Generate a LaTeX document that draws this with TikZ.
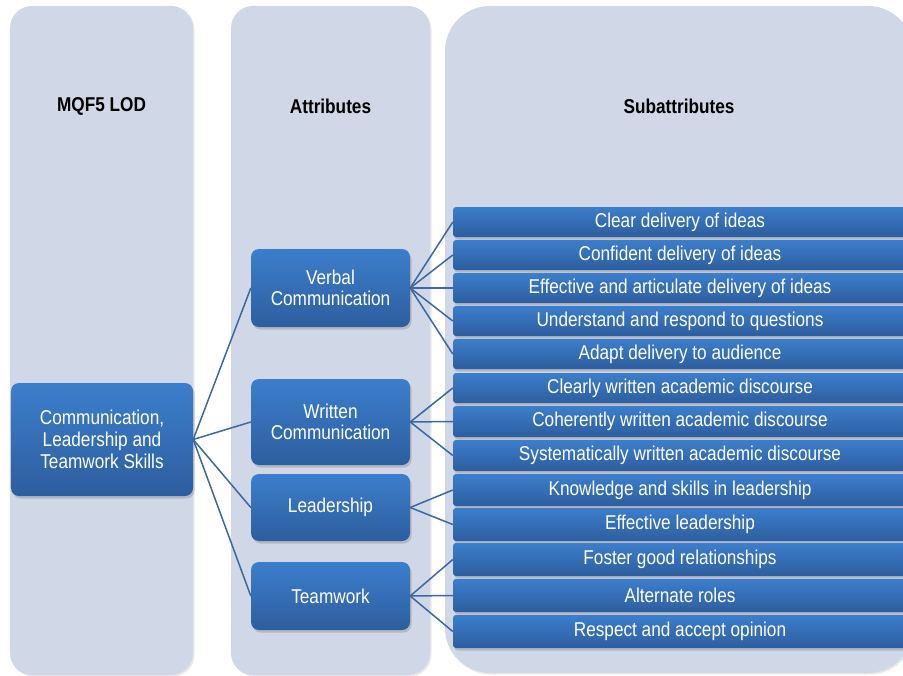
\documentclass[tikz,border=0pt]{standalone}
\usepackage{fontspec}
\setmainfont{Liberation Sans}[FakeStretch=0.86]
\usetikzlibrary{shadows}
\definecolor{colfill}{HTML}{D0D7E6}
\definecolor{boxtop}{HTML}{3C7ECC}
\definecolor{boxbot}{HTML}{2D5E9E}
\definecolor{linkc}{HTML}{3C67A2}
\tikzset{
  column/.style={fill=colfill, draw=none, inner sep=0pt,
    drop shadow={shadow xshift=1.5bp, shadow yshift=-1.5bp, opacity=0.18}},
  header/.style={font=\fontsize{20bp}{22bp}\selectfont\bfseries, text=black, inner sep=0pt},
  nbox/.style={top color=boxtop, bottom color=boxbot, draw=none, rounded corners=8bp,
    text=white, align=center, inner sep=0pt,
    font=\fontsize{20bp}{21.5bp}\selectfont,
    drop shadow={shadow xshift=1.5bp, shadow yshift=-2.5bp, opacity=0.35}},
  sbox/.style={nbox, rounded corners=3bp, minimum width=454bp},
  link/.style={draw=linkc, line width=1.5bp},
}
\begin{document}
\begin{tikzpicture}[x=1bp,y=-1bp]
\useasboundingbox (0,0) rectangle (903,676);
\clip (0,0) rectangle (903,676);
% columns
\node[column, minimum width=183bp, minimum height=669bp, rounded corners=22bp] (c1) at (101.5,340.5) {};
\node[column, minimum width=199bp, minimum height=669bp, rounded corners=22bp] (c2) at (330.5,340.5) {};
\node[column, minimum width=468bp, minimum height=667bp, rounded corners=45bp] (c3) at (679,339.5) {};
% headers
\node[header] (h1) at (101.5,106) {MQF5 LOD};
\node[header] (h2) at (330.5,106) {Attributes};
\node[header] (h3) at (679,106) {Subattributes};
% root and attributes
\node[nbox, minimum width=182bp, minimum height=113bp, font=\fontsize{20bp}{22bp}\selectfont] (root) at (102,439.5) {Communication,\\Leadership and\\Teamwork Skills};
\node[nbox, minimum width=159bp, minimum height=78bp] (verb) at (330.5,288) {Verbal\\Communication};
\node[nbox, minimum width=159bp, minimum height=86bp] (writ) at (330.5,422) {Written\\Communication};
\node[nbox, minimum width=159bp, minimum height=67bp] (lead) at (330.5,507.5) {Leadership};
\node[nbox, minimum width=159bp, minimum height=68bp] (team) at (330.5,596) {Teamwork};
% subattributes
\node[sbox, minimum height=30bp] (s1) at (680,222) {Clear delivery of ideas};
\node[sbox, minimum height=30bp] (s2) at (680,255) {Confident delivery of ideas};
\node[sbox, minimum height=30bp] (s3) at (680,288) {Effective and articulate delivery of ideas};
\node[sbox, minimum height=30bp] (s4) at (680,321) {Understand and respond to questions};
\node[sbox, minimum height=30bp] (s5) at (680,354) {Adapt delivery to audience};
\node[sbox, minimum height=30bp] (s6) at (680,388) {Clearly written academic discourse};
\node[sbox, minimum height=31bp] (s7) at (680,421.5) {Coherently written academic discourse};
\node[sbox, minimum height=31bp] (s8) at (680,455.5) {Systematically written academic discourse};
\node[sbox, minimum height=32bp] (s9) at (680,490) {Knowledge and skills in leadership};
\node[sbox, minimum height=33bp] (s10) at (680,524.5) {Effective leadership};
\node[sbox, minimum height=33bp] (s11) at (680,559.5) {Foster good relationships};
\node[sbox, minimum height=33bp] (s12) at (680,595.5) {Alternate roles};
\node[sbox, minimum height=33bp] (s13) at (680,631.5) {Respect and accept opinion};
% connectors
\foreach \t in {verb,writ,lead,team} \draw[link] (root.east) -- (\t.west);
\foreach \t in {s1,s2,s3,s4,s5} \draw[link] (verb.east) -- (\t.west);
\foreach \t in {s6,s7,s8} \draw[link] (writ.east) -- (\t.west);
\foreach \t in {s9,s10} \draw[link] (lead.east) -- (\t.west);
\foreach \t in {s11,s12,s13} \draw[link] (team.east) -- (\t.west);
\end{tikzpicture}
\end{document}
